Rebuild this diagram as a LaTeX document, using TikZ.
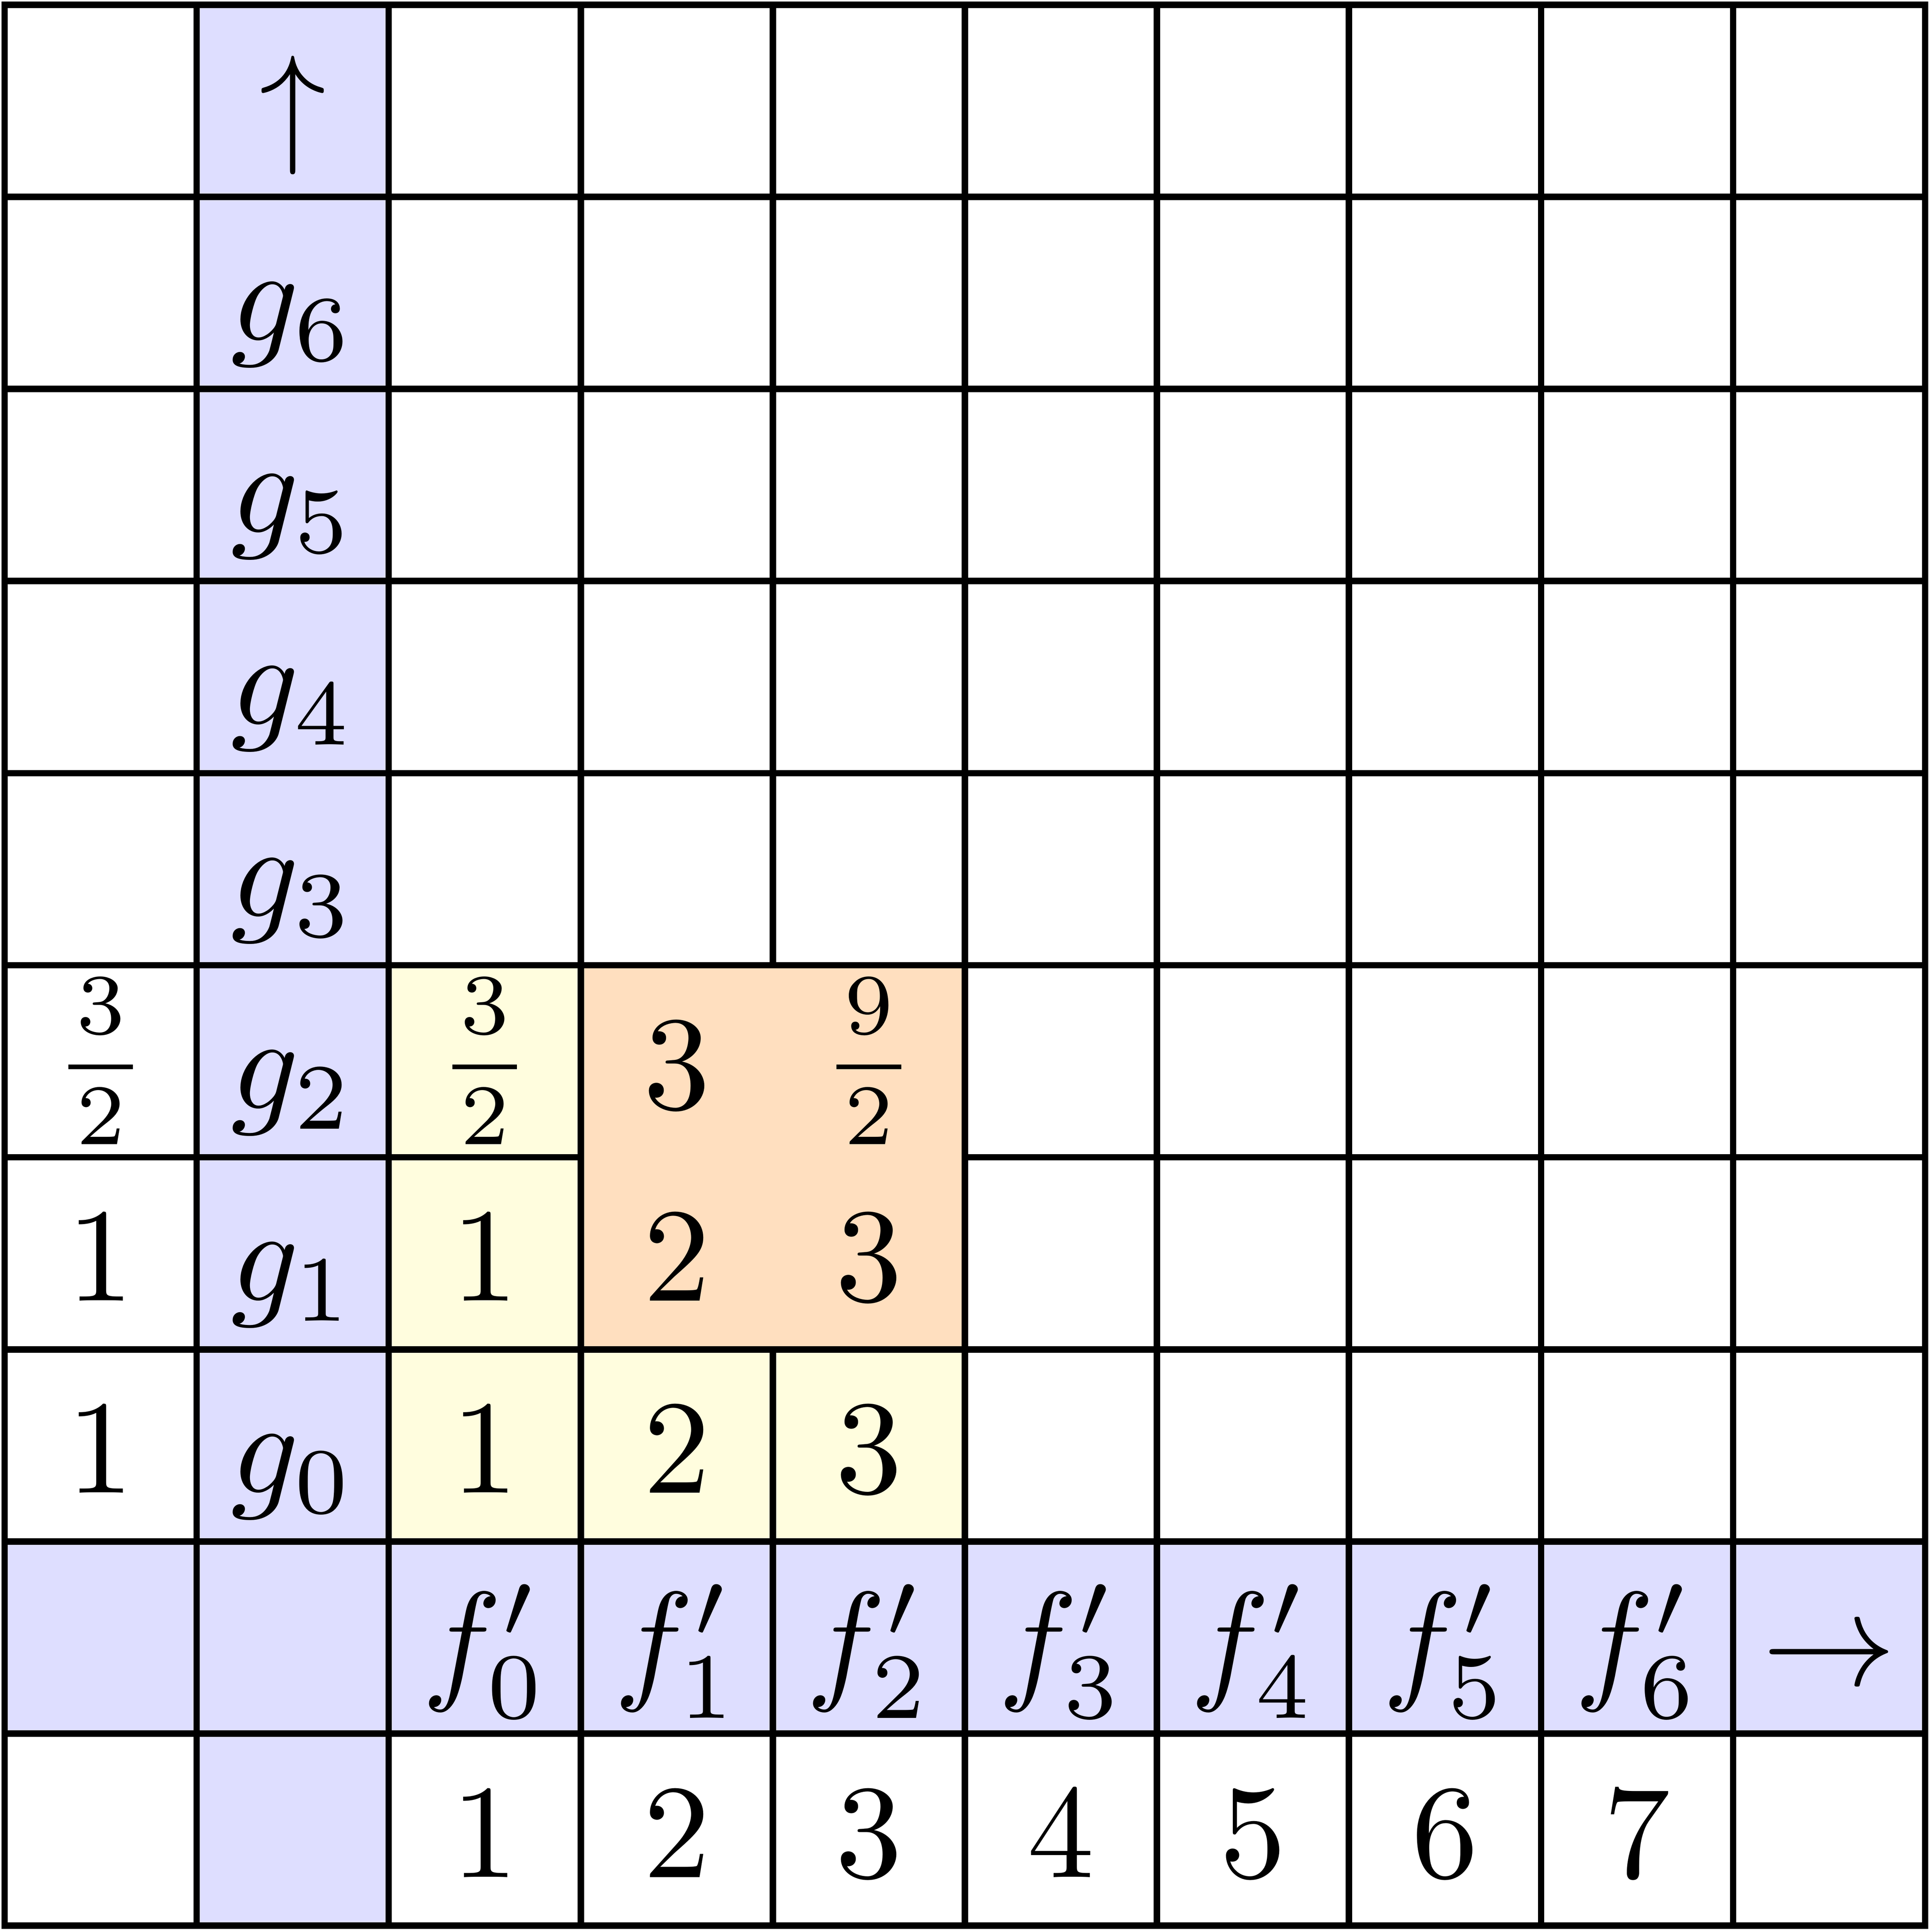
\documentclass[tikz,border=0pt]{standalone}
\usepackage{amsmath}
\usepackage{tikz}

\newcommand{\wfrac}[2]{\frac{\mkern1.4mu#1\mkern1.4mu\vrule width0pt depth2.1pt}{#2\vrule width0pt height5.7pt}}

\begin{document}
\begin{tikzpicture}[
          every node/.style={scale=1.98, inner sep=0pt},
          val/.style={text height=7.12pt, text depth=0pt},
          fr/.style={scale=0.92},
          gridline/.style={line width=0.95pt}
        ]
        \useasboundingbox (-0.024,-0.033) rectangle (10.02,10.025);
        \fill[blue!13] (1,0) rectangle (2,10);
        \fill[blue!13] (0,1) rectangle (10,2);
        \fill[yellow!13] (2,2) rectangle (3,5);
        \fill[yellow!13] (3,2) rectangle (5,3);
        \draw[gridline] (0,0) grid (10,10);
        \draw[gridline] (0,0) rectangle (10,10);
        \filldraw[gridline, fill=orange!25] (3,3) rectangle (5,5);
        \node[val] (up) at (1.5,9.5) {$\uparrow$};
        \foreach \i in {0,...,6}
          \node[val] (g\i) at (1.5,2.5+\i) {$g_{\i}$};
        \foreach \i in {0,...,6}
          \node[val] (f\i) at (2.5+\i,1.5) {$f'_{\i}$};
        \node[val] (right) at (9.5,1.5) {$\rightarrow$};
        \foreach \i in {1,...,7}
          \node[val] (n\i) at (1.5+\i,0.5) {$\i$};
        \node[fr] (h2) at (0.5,4.5) {$\wfrac{3}{2}$};
        \node[val] (h1) at (0.5,3.5) {$1$};
        \node[val] (h0) at (0.5,2.5) {$1$};
        \node[fr] (y2) at (2.5,4.5) {$\wfrac{3}{2}$};
        \node[val] (y1) at (2.5,3.5) {$1$};
        \node[val] (y0) at (2.5,2.5) {$1$};
        \node[val] (o12) at (3.5,4.5) {$3$};
        \node[fr] (o22) at (4.5,4.5) {$\wfrac{9}{2}$};
        \node[val] (o11) at (3.5,3.5) {$2$};
        \node[val] (o21) at (4.5,3.5) {$3$};
        \node[val] (y10) at (3.5,2.5) {$2$};
        \node[val] (y20) at (4.5,2.5) {$3$};
\end{tikzpicture}
\end{document}
